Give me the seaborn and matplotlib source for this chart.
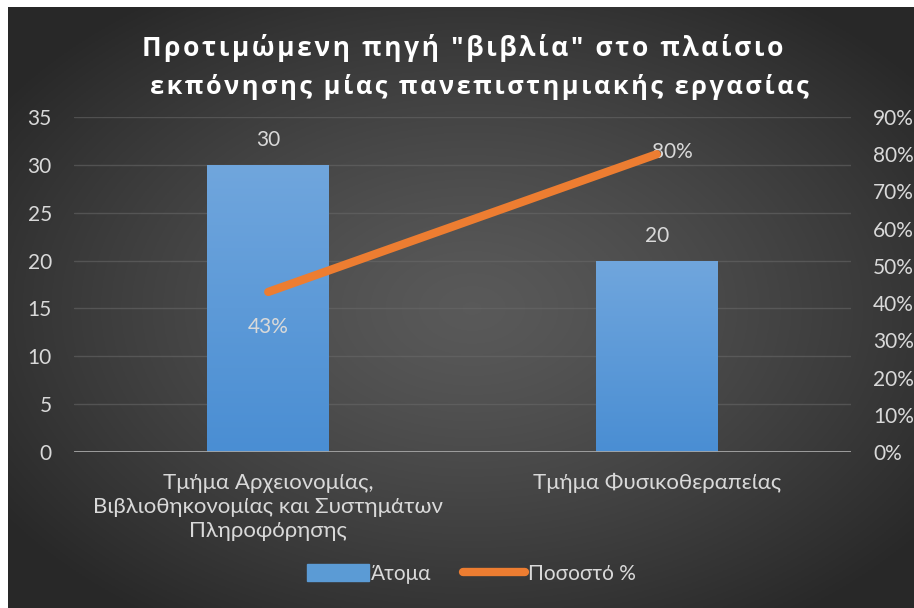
import numpy as np
import pandas as pd
import matplotlib
matplotlib.use("Agg")
import matplotlib.pyplot as plt
import seaborn as sns
from matplotlib.patches import Patch
from matplotlib.lines import Line2D

# δεδομένα
categories = ["Τμήμα Αρχειονομίας,\nΒιβλιοθηκονομίας και Συστημάτων\nΠληροφόρησης",
              "Τμήμα Φυσικοθεραπείας"]
atoma = [30, 20]
pososto = [0.43, 0.80]
bar_labels = ["30", "20"]
pct_labels = ["43%", "80%"]
title_lines = ['Προτιμώμενη πηγή "βιβλία" στο πλαίσιο',
               "εκπόνησης μίας πανεπιστημιακής εργασίας"]

sns.set_theme(style="dark")
plt.rcParams["font.family"] = ["Lato", "DejaVu Sans"]

txt = "#d9d9d9"
blue = "#5b9bd5"
orange = "#ed7d31"
fs = 15

fig = plt.figure(figsize=(9.14, 6.08), dpi=100, facecolor="white")

# φόντο με ακτινική διαβάθμιση
bg = fig.add_axes([8 / 914, 0, 906 / 914, 601 / 608], zorder=-5)
yy, xx = np.mgrid[0:300, 0:450]
r = np.sqrt(((xx - 230) / 450) ** 2 + ((yy - 150) / 300) ** 2) / 0.62
r = np.clip(r, 0, 1)
shade = 0.35 - 0.19 * r ** 1.3
bg.imshow(np.dstack([shade] * 3), aspect="auto", extent=[0, 1, 0, 1])
bg.set_axis_off()

ax = fig.add_axes([74 / 914, 1 - 452 / 608, 777 / 914, 335 / 608])
ax.patch.set_alpha(0)

df = pd.DataFrame({"cat": categories, "atoma": atoma, "pct": pososto})
sns.barplot(data=df, x="cat", y="atoma", color=blue, width=0.314,
            saturation=1, linewidth=0, edgecolor="none", ax=ax, zorder=3)
ax.set_ylim(0, 35)
ax.set_yticks(range(0, 36, 5))
ax.set_xlim(-0.5, 1.5)
ax.set_xlabel("")
ax.set_ylabel("")
ax.grid(axis="y", color="#6a6a6a", linewidth=1, alpha=0.55, zorder=0)
ax.grid(axis="x", visible=False)
for s in ax.spines.values():
    s.set_visible(False)
ax.axhline(0, color="#a6a6a6", linewidth=2, zorder=4)
ax.tick_params(axis="y", colors=txt, labelsize=fs, length=0, pad=16)
ax.tick_params(axis="x", colors=txt, labelsize=16, length=0, pad=15)
for lab in ax.get_xticklabels():
    lab.set_linespacing(1.25)

# διαβάθμιση χρώματος στις μπάρες
grad = np.linspace(0, 1, 100)[:, None]
cols = np.array([0x4a, 0x8e, 0xd3]) / 255 * grad + np.array([0x70, 0xa6, 0xdd]) / 255 * (1 - grad)
for p in ax.patches:
    x0, y0 = p.get_x(), p.get_y()
    im = ax.imshow(cols[:, None, :], aspect="auto", zorder=3,
                   extent=[x0, x0 + p.get_width(), y0, y0 + p.get_height()])
    im.set_clip_path(p)
ax.set_xlim(-0.5, 1.5)
ax.set_ylim(0, 35)

for i, v in enumerate(atoma):
    ax.text(i, v + 1.5, bar_labels[i], ha="center", va="bottom",
            color=txt, fontsize=fs)

ax2 = ax.twinx()
ax2.patch.set_alpha(0)
sns.lineplot(x=np.arange(len(categories)), y=pososto, ax=ax2, color=orange,
             linewidth=6, solid_capstyle="round", zorder=5)
ax2.set_ylim(0, 0.9)
ticks = np.arange(0, 0.91, 0.1)
ax2.set_yticks(ticks)
ax2.set_yticklabels([f"{int(round(t * 100))}%" for t in ticks])
ax2.tick_params(axis="y", colors=txt, labelsize=fs, length=0, pad=16)
ax2.grid(False)
for s in ax2.spines.values():
    s.set_visible(False)
ax2.text(0, pososto[0] - 0.095, pct_labels[0], ha="center", va="center",
         color=txt, fontsize=fs)
ax2.text(1.04, pososto[1] + 0.005, pct_labels[1], ha="center", va="center",
         color=txt, fontsize=fs)

# τίτλος (με λίγο αραιότερα γράμματα)
hair = "\u200a"
for line, xc, yc, tsz in zip(title_lines, [463, 479], [48, 87], [19, 18.3]):
    fig.text(xc / 914, 1 - yc / 608, hair.join(line), ha="center", va="center",
             color="white", fontsize=tsz, fontweight="bold",
             family=["Open Sans", "DejaVu Sans"])

# υπόμνημα
handles = [Patch(color=blue, label="Άτομα"),
           Line2D([], [], color=orange, linewidth=6, solid_capstyle="round",
                  label="Ποσοστό %")]
fig.legend(handles=handles, loc="center", bbox_to_anchor=(471 / 914, 1 - 574 / 608),
           ncol=2, frameon=False, fontsize=15, labelcolor=txt,
           handlelength=3.0, handleheight=0.9, handletextpad=0.1, columnspacing=1.5)

fig.savefig("out.png", dpi=100, facecolor="white")
